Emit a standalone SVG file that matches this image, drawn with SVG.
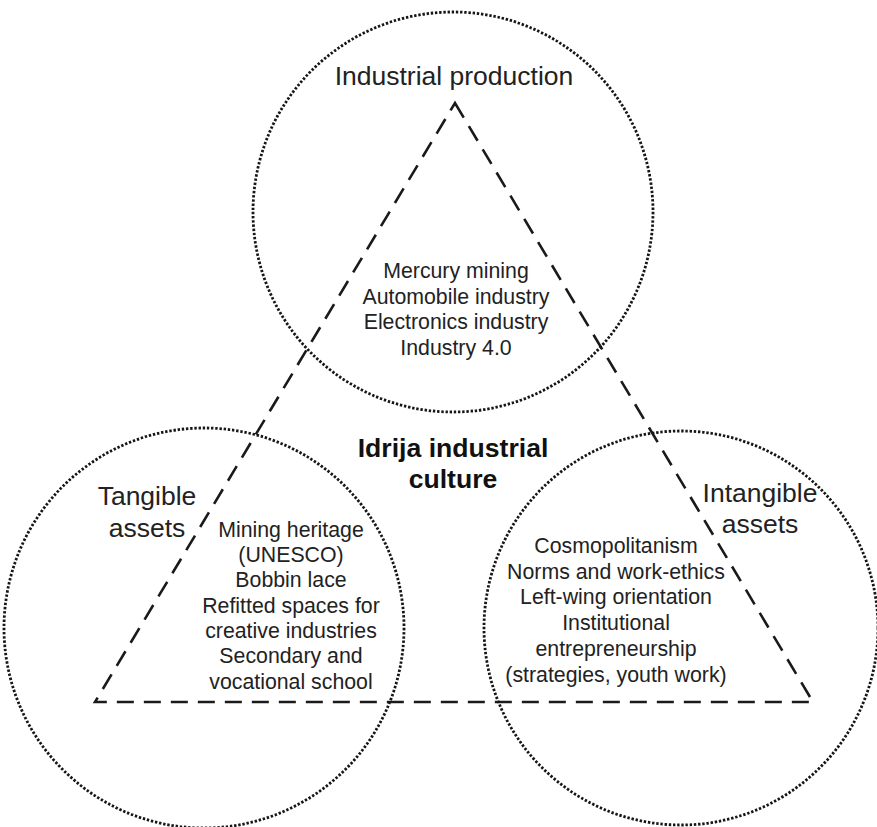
<svg xmlns="http://www.w3.org/2000/svg" width="877" height="827" viewBox="0 0 877 827">
  <style>
    .circle { fill: none; stroke: #161616; stroke-width: 2.8; stroke-dasharray: 2.4 1.8; }
    .tri { fill: none; stroke: #1a1a1a; stroke-width: 2.6; stroke-dasharray: 17 10; stroke-linejoin: miter; }
    text { font-family: "Liberation Sans", Arial, sans-serif; fill: #222; text-anchor: middle; }
    .head { font-size: 26.5px; }
    .item { font-size: 21.3px; }
    .title { font-size: 26.6px; font-weight: bold; fill: #111; }
  </style>
  <rect width="877" height="827" fill="#fff"/>

  <!-- connecting triangle -->
  <g id="connectors">
    <path class="tri" d="M455 103 L813 702 L95 702 Z"/>
  </g>

  <!-- Industrial production -->
  <g id="node-production">
    <circle class="circle" cx="453" cy="212" r="200"/>
    <text class="head" x="454" y="85">Industrial production</text>
    <text class="item" x="456" y="278">Mercury mining</text>
    <text class="item" x="456" y="303.5">Automobile industry</text>
    <text class="item" x="456" y="329">Electronics industry</text>
    <text class="item" x="456" y="355">Industry 4.0</text>
  </g>

  <!-- Tangible assets -->
  <g id="node-tangible">
    <circle class="circle" cx="204" cy="628" r="200"/>
    <text class="head" x="147" y="505">Tangible</text>
    <text class="head" x="147" y="537">assets</text>
    <text class="item" x="291" y="536.5">Mining heritage</text>
    <text class="item" x="291" y="562">(UNESCO)</text>
    <text class="item" x="291" y="587">Bobbin lace</text>
    <text class="item" x="291" y="612.5">Refitted spaces for</text>
    <text class="item" x="291" y="638">creative industries</text>
    <text class="item" x="291" y="663">Secondary and</text>
    <text class="item" x="291" y="688.5">vocational school</text>
  </g>

  <!-- Intangible assets -->
  <g id="node-intangible">
    <circle class="circle" cx="681" cy="628" r="197"/>
    <text class="head" x="760" y="502">Intangible</text>
    <text class="head" x="760" y="533">assets</text>
    <text class="item" x="616" y="553">Cosmopolitanism</text>
    <text class="item" x="616" y="578.5">Norms and work-ethics</text>
    <text class="item" x="616" y="604">Left-wing orientation</text>
    <text class="item" x="616" y="629.5">Institutional</text>
    <text class="item" x="616" y="655.5">entrepreneurship</text>
    <text class="item" x="616" y="681.5">(strategies, youth work)</text>
  </g>

  <!-- central label -->
  <g id="node-culture">
    <text class="title" x="453" y="457">Idrija industrial</text>
    <text class="title" x="453" y="488">culture</text>
  </g>
</svg>
